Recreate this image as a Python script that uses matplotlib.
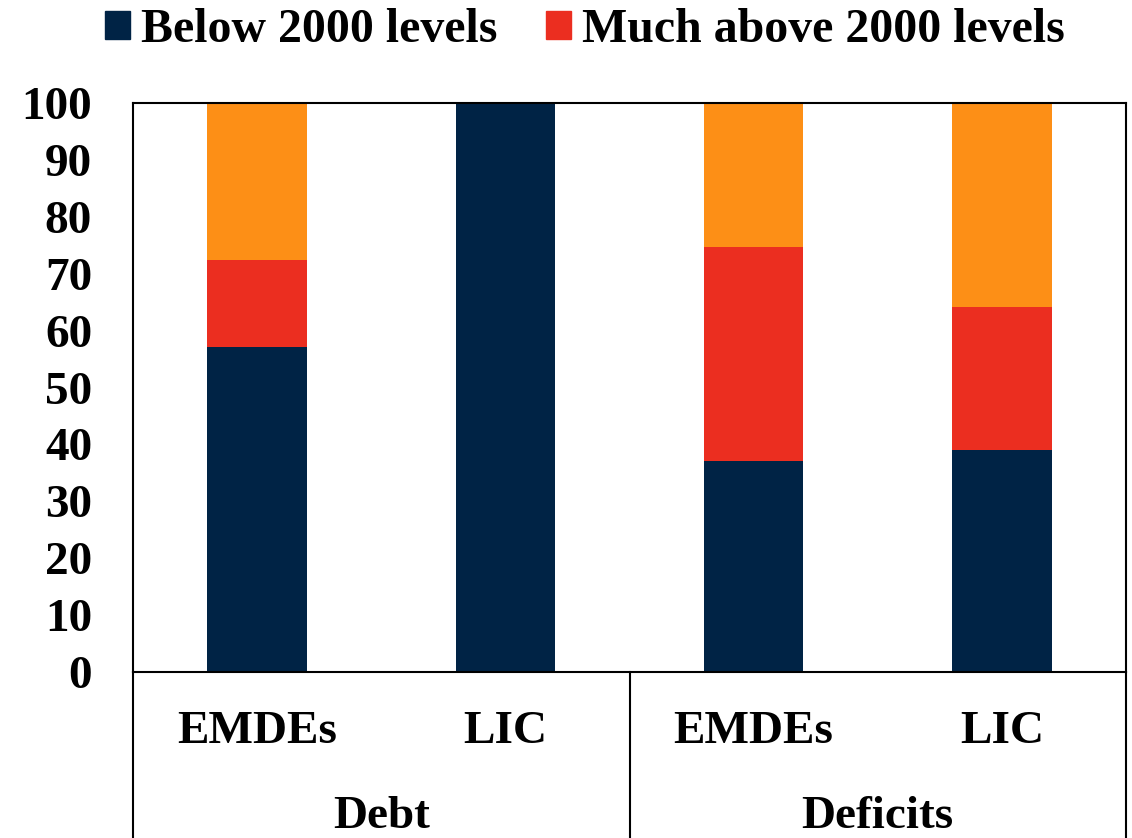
import matplotlib
matplotlib.use("Agg")
import matplotlib.pyplot as plt
from matplotlib.patches import Patch
from matplotlib.lines import Line2D

plt.rcParams['font.family'] = ['Liberation Serif', 'DejaVu Serif']
plt.rcParams['font.weight'] = 'bold'

groups = ["Debt", "Deficits"]
categories = ["EMDEs", "LIC", "EMDEs", "LIC"]
below = [57.1, 100.0, 37.1, 39.0]
much_above = [15.3, 0.0, 37.6, 25.1]
above = [27.6, 0.0, 25.3, 35.9]
yticks = [0, 10, 20, 30, 40, 50, 60, 70, 80, 90, 100]

c_navy = '#002345'
c_red = '#EB2E20'
c_orange = '#FD8F16'

FS = 34
LFS = 34.5
W, H = 1132, 838
fig = plt.figure(figsize=(W / 100, H / 100), dpi=100)
ax = fig.add_axes([133 / W, (838 - 672) / H, 993 / W, 569 / H])

x = list(range(len(categories)))
bw = 0.40
ax.bar(x, below, bw, color=c_navy, label="Below 2000 levels")
b2 = [b for b in below]
ax.bar(x, much_above, bw, bottom=b2, color=c_red, label="Much above 2000 levels")
b3 = [b + m for b, m in zip(below, much_above)]
ax.bar(x, above, bw, bottom=b3, color=c_orange)

ax.set_xlim(-0.5, 3.5)
ax.set_ylim(0, 100)
ax.set_yticks(yticks)
ax.set_yticklabels([str(t) for t in yticks], fontsize=FS, fontweight='bold')
ax.tick_params(axis='y', length=0, pad=29.5)
ax.set_xticks([])
for s in ax.spines.values():
    s.set_linewidth(1.5)
    s.set_color('black')

# category table below the axes
ybot = -(H - 672) / 569.0
trans = ax.get_xaxis_transform()
for xv in [-0.5, 1.5, 3.5]:
    ax.add_line(Line2D([xv, xv], [0, ybot], transform=trans, color='black',
                       lw=1.5, clip_on=False))
for xi, c in zip(x, categories):
    ax.text(xi, -(743 - 672) / 569.0, c, transform=trans, ha='center', va='baseline',
            fontsize=FS, fontweight='bold')
for gi, g in enumerate(groups):
    ax.text(0.5 + 2 * gi, -(828 - 672) / 569.0, g, transform=trans, ha='center',
            va='baseline', fontsize=FS, fontweight='bold')

em = LFS * 100 / 72.0
handles = [Patch(color=c_navy), Patch(color=c_red)]
fig.legend(handles, ["Below 2000 levels", "Much above 2000 levels"],
           loc='center', bbox_to_anchor=(585 / W, 1 - 30 / H), ncol=2, frameon=False,
           prop={'weight': 'bold', 'size': LFS}, handlelength=25 / em,
           handleheight=25 / em, handletextpad=11 / em, columnspacing=48 / em,
           borderpad=0, borderaxespad=0)

fig.savefig("out.png", dpi=100)
